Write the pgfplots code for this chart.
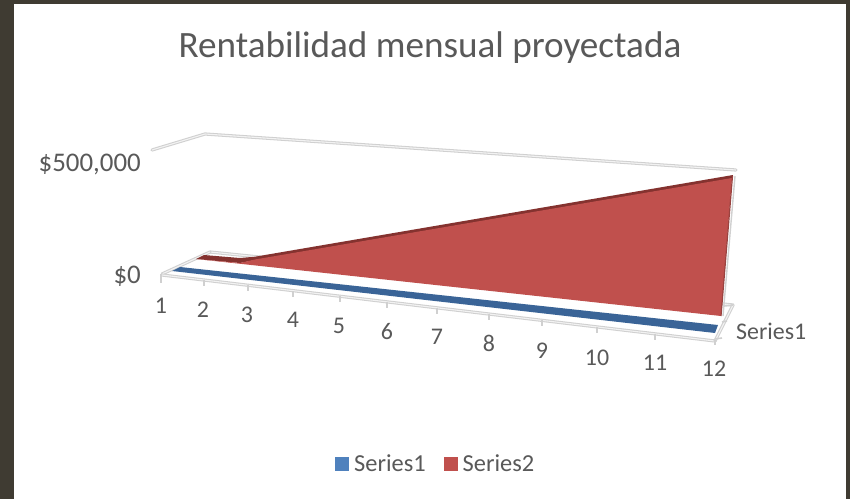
\documentclass[border=0pt]{standalone}
\usepackage{fontspec}
\setmainfont{Carlito}
\usepackage{pgfplots}
\pgfplotsset{compat=1.18}
\definecolor{frame}{HTML}{3F3B32}
\definecolor{txt}{HTML}{595959}
\definecolor{gridc}{HTML}{D0D0D0}
\definecolor{gridi}{HTML}{F2F2F2}
\definecolor{blueleg}{HTML}{4F81BD}
\definecolor{redleg}{HTML}{C0504D}
\definecolor{bluef}{HTML}{3A6497}
\definecolor{redtop}{HTML}{84322F}
\definecolor{redside}{HTML}{9A4340}
\pgfplotsset{
 grid2/.style={no marks,forget plot,draw=gridc,line width=3.2bp,line join=round,line cap=round},
 grid3/.style={no marks,forget plot,draw=gridi,line width=1.1bp,line join=round},
 tk/.style={no marks,forget plot,draw=gridc,line width=1.6bp},
 poly/.style={no marks,forget plot,draw=none}
}
\newcommand{\ax}[1]{\addplot[grid2] coordinates {#1};\addplot[grid3] coordinates {#1};}
\begin{document}
\begin{tikzpicture}
\begin{axis}[
 scale only axis,width=850bp,height=499bp,
 xmin=0,xmax=850,ymin=0,ymax=499,y dir=reverse,
 hide axis,clip=false,
 legend image code/.code={\fill[draw=none,#1] (0bp,-7bp) rectangle (14bp,7bp);},
 legend style={draw=none,fill=none,at={(axis cs:335,464)},anchor=west,legend columns=2,
   font=\fontsize{24.5}{24.5}\selectfont,text=txt,inner sep=0pt,
   /tikz/every even column/.append style={column sep=13bp},
   nodes={inner xsep=5bp,inner ysep=0pt}},
]
\fill[frame] (axis cs:0,0) rectangle (axis cs:850,499);
\fill[white] (axis cs:14,4) rectangle (axis cs:846,499);
% back wall top
\ax{(152,150) (205,134) (736,170)}
% floor
\ax{(210,252) (733,305)}
\ax{(162,274) (210,252)}
\ax{(162,275) (715,341)}
\ax{(715,341) (733,305)}
% right wall edge
\addplot[no marks,forget plot,draw=gridc,line width=1.4bp] coordinates {(735,176) (723,316)};
% category ticks
\addplot[tk] coordinates {(161,274) (161,283)};
\addplot[tk] coordinates {(204,280) (204,286)};
\addplot[tk] coordinates {(248,285) (248,291)};
\addplot[tk] coordinates {(293,291) (293,297)};
\addplot[tk] coordinates {(340,296) (340,302)};
\addplot[tk] coordinates {(387,302) (387,308)};
\addplot[tk] coordinates {(437,308) (437,314)};
\addplot[tk] coordinates {(489,314) (489,320)};
\addplot[tk] coordinates {(542,320) (542,326)};
\addplot[tk] coordinates {(597,327) (597,333)};
\addplot[tk] coordinates {(655,334) (655,340)};
\addplot[tk] coordinates {(715,340) (715,345)};
\addplot[tk] coordinates {(724,306) (733,305)};
\addplot[tk] coordinates {(722,322) (727,321)};
\addplot[tk] coordinates {(715,339) (722,338)};
% Series1
\addplot[poly,fill=bluef] coordinates {(172,271) (180,267) (718,325) (715,333) (172,271)};
% Series2
\addplot[poly,fill=redtop] coordinates {(196,259) (204,255) (240,258) (255,256.7) (733,175) (732,178.5) (255,260) (240,263) (196,259)};
\addplot[poly,fill=redleg] coordinates {(196,259) (240,263) (255,259.5) (732,178) (721,316) (196,259)};
\addplot[no marks,forget plot,draw=redside,line width=1.2bp] coordinates {(732.5,176) (721,316)};
\addlegendimage{fill=blueleg}
\addlegendentry{Series1}
\addlegendimage{fill=redleg}
\addlegendentry{Series2}
% text
\node[text=txt,font=\fontsize{37.3}{37.3}\selectfont,anchor=center] at (axis cs:430,48) {Rentabilidad mensual proyectada};
\node[text=txt,font=\fontsize{27}{27}\selectfont,anchor=east,inner sep=0pt] at (axis cs:141,164) {\$500,000};
\node[text=txt,font=\fontsize{27}{27}\selectfont,anchor=east,inner sep=0pt] at (axis cs:141,276) {\$0};
\node[text=txt,font=\fontsize{24}{24}\selectfont,anchor=west,inner sep=0pt] at (axis cs:736,331) {Series1};
\foreach \x/\y/\t in {161/306/1,203/310/2,247/315/3,293/320/4,339/326/5,387/332/6,437/337/7,489/343/8,542/351/9,597/358/10,655/363/11,714/369/12}{
 \edef\tmp{\noexpand\node[text=txt,font=\noexpand\fontsize{24}{24}\noexpand\selectfont,inner sep=0pt] at (axis cs:\x,\y) {\t};}\tmp
}
\end{axis}
\end{tikzpicture}
\end{document}
